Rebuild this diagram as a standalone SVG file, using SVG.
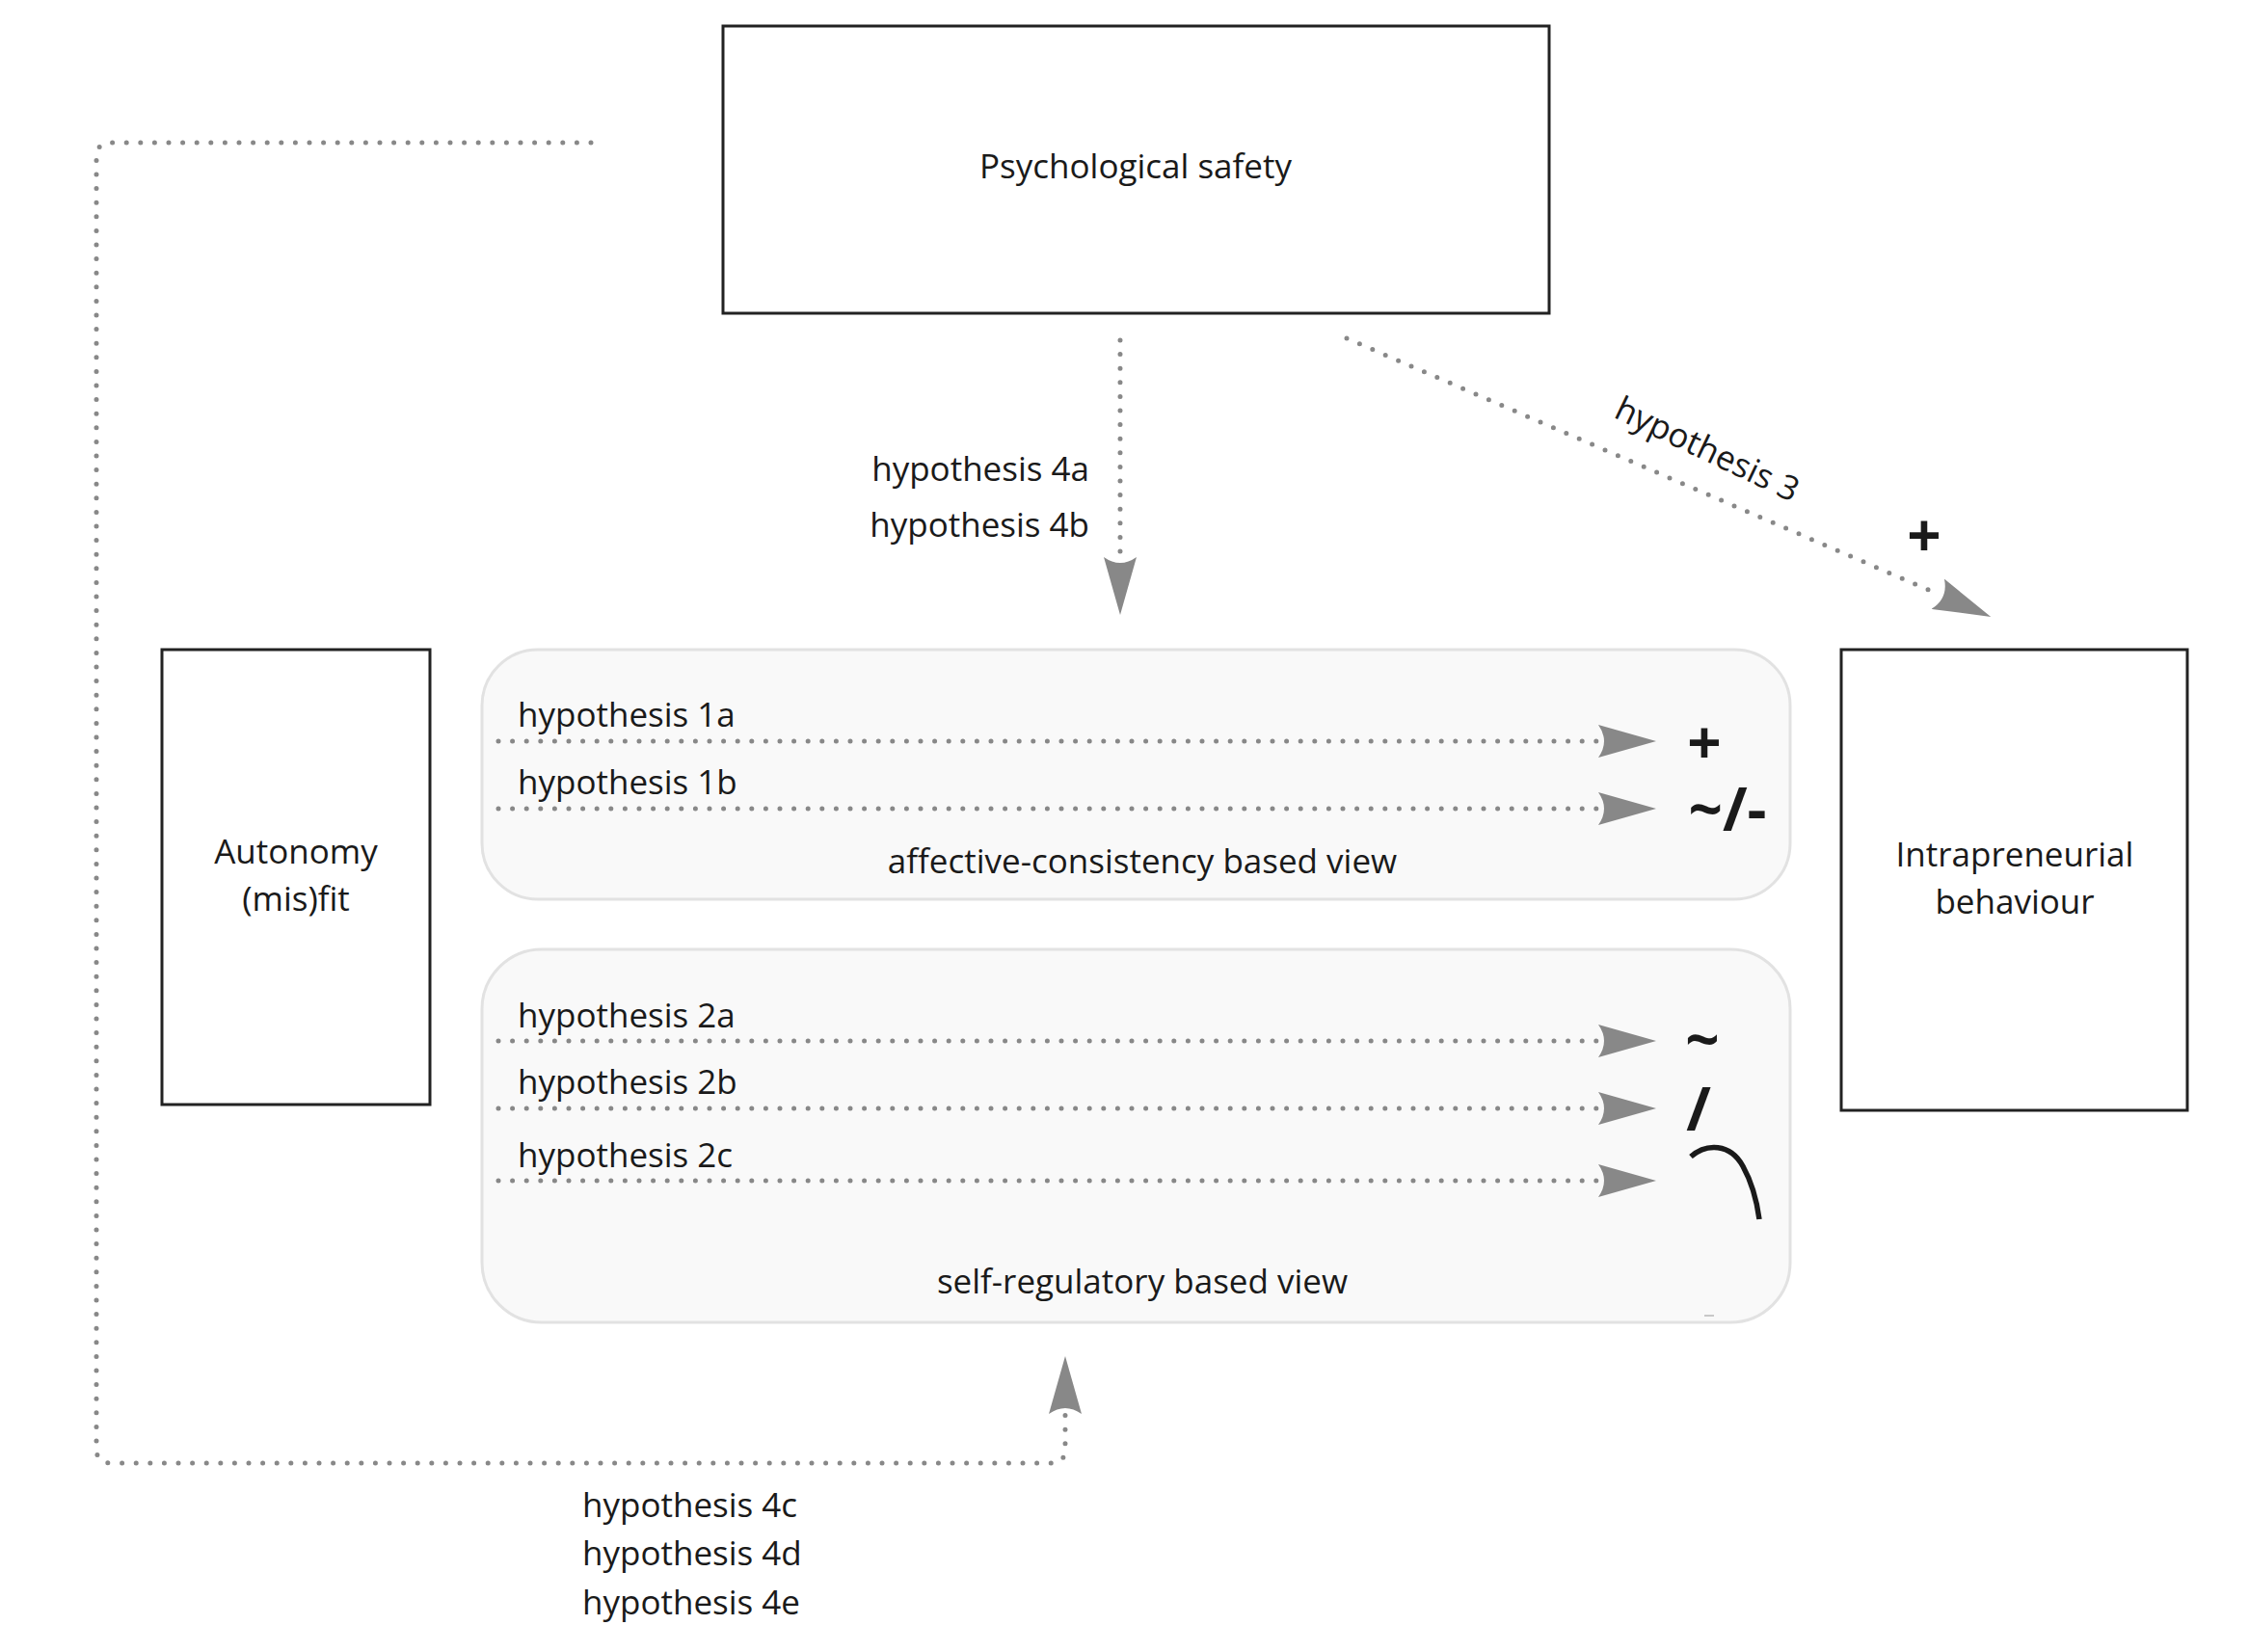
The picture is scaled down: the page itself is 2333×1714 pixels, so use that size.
<svg xmlns="http://www.w3.org/2000/svg" width="2333" height="1714" viewBox="0 0 2333 1714">
<style>
.node{fill:#ffffff;stroke:#222222;stroke-width:3}
.group{fill:#f9f9f9;stroke:#e2e2e2;stroke-width:3}
.lbl{font-family:"Open Sans","Noto Sans","Liberation Sans",sans-serif;font-size:35px;fill:#1a1a1a}
.sym{font-family:"Open Sans","Noto Sans","Liberation Sans",sans-serif;font-size:62px;font-weight:bold;fill:#1a1a1a}
.dot{fill:none;stroke:#888888;stroke-width:5;stroke-linecap:round;stroke-dasharray:0 14.6}
</style>
<defs>
<marker id="arr" markerUnits="userSpaceOnUse" viewBox="0 0 60 34" markerWidth="60" markerHeight="34" refX="2" refY="17" orient="auto">
<path d="M0,0 L60,17 L0,34 Q12,17 0,0 Z" fill="#888888"/>
</marker>
</defs>
<rect width="2333" height="1714" fill="#ffffff"/>

<g id="group-affective">
<rect class="group" x="500" y="674" width="1357" height="259" rx="58" ry="58"/>
<text class="lbl" x="1185" y="906" text-anchor="middle">affective-consistency based view</text>
</g>
<g id="group-selfregulatory">
<rect class="group" x="500" y="985" width="1357" height="387" rx="62" ry="62"/>
<text class="lbl" x="1185" y="1342" text-anchor="middle">self-regulatory based view</text>
<line x1="1768" y1="1365" x2="1778" y2="1365" stroke="#c8c8c8" stroke-width="2"/>
</g>

<g id="node-psych">
<rect class="node" x="750" y="27" width="857" height="298"/>
<text class="lbl" x="1178" y="185" text-anchor="middle">Psychological safety</text>
</g>
<g id="node-autonomy">
<rect class="node" x="168" y="674" width="278" height="472"/>
<text class="lbl" x="307" y="896" text-anchor="middle">Autonomy</text>
<text class="lbl" x="307" y="945" text-anchor="middle">(mis)fit</text>
</g>
<g id="node-intra">
<rect class="node" x="1910" y="674" width="359" height="478"/>
<text class="lbl" x="2090" y="899" text-anchor="middle">Intrapreneurial</text>
<text class="lbl" x="2090" y="948" text-anchor="middle">behaviour</text>
</g>

<g id="connectors">
<path class="dot" d="M613,148 L115,148 Q100,148 100,163 L100,1503 Q100,1518 115,1518 L1090,1518 Q1105,1518 1105,1503 L1105,1465" marker-end="url(#arr)"/>
<path class="dot" d="M1162,353 L1162,580" marker-end="url(#arr)"/>
<path class="dot" d="M1397,351 L2012,617" marker-end="url(#arr)"/>
<path class="dot" d="M517,769 L1660,769" marker-end="url(#arr)"/>
<path class="dot" d="M517,839 L1660,839" marker-end="url(#arr)"/>
<path class="dot" d="M517,1080 L1660,1080" marker-end="url(#arr)"/>
<path class="dot" d="M517,1150 L1660,1150" marker-end="url(#arr)"/>
<path class="dot" d="M517,1225 L1660,1225" marker-end="url(#arr)"/>
</g>

<g id="labels">
<text class="lbl" x="1130" y="499" text-anchor="end">hypothesis 4a</text>
<text class="lbl" x="1130" y="557" text-anchor="end">hypothesis 4b</text>
<text class="lbl" transform="translate(1771,466) rotate(25.5)" x="0" y="12" text-anchor="middle">hypothesis 3</text>
<text class="sym" x="1996" y="578" text-anchor="middle">+</text>
<text class="lbl" x="537" y="754">hypothesis 1a</text>
<text class="lbl" x="537" y="824">hypothesis 1b</text>
<text class="sym" x="1768" y="793" text-anchor="middle">+</text>
<text class="sym" x="1792" y="862" text-anchor="middle">~/-</text>
<text class="lbl" x="537" y="1066">hypothesis 2a</text>
<text class="lbl" x="537" y="1135">hypothesis 2b</text>
<text class="lbl" x="537" y="1211">hypothesis 2c</text>
<text class="sym" x="1766" y="1101" text-anchor="middle">~</text>
<text class="sym" x="1762" y="1173" text-anchor="middle">/</text>
<path d="M1754,1200 C1770,1186 1795,1186 1808,1210 C1818,1228 1823,1250 1825,1265" fill="none" stroke="#1a1a1a" stroke-width="5.5"/>
<text class="lbl" x="604" y="1574">hypothesis 4c</text>
<text class="lbl" x="604" y="1624">hypothesis 4d</text>
<text class="lbl" x="604" y="1675">hypothesis 4e</text>
</g>
</svg>
